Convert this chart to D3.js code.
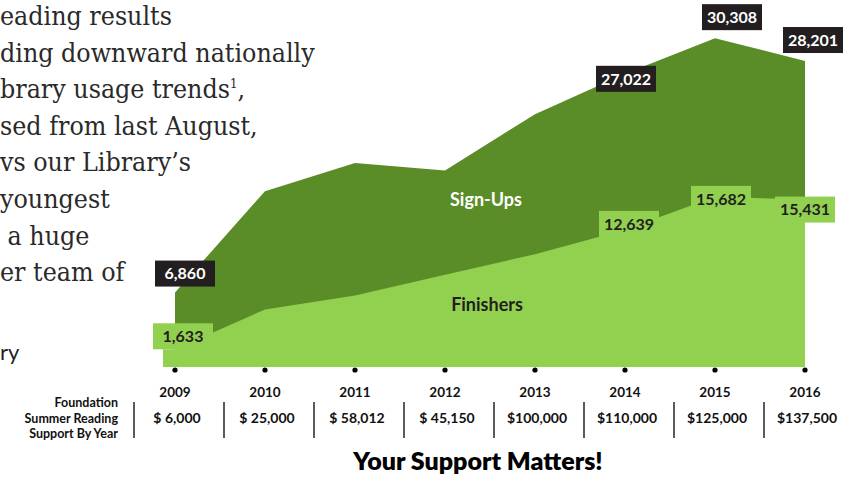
<!DOCTYPE html>
<html>
<head>
<meta charset="utf-8">
<script src="https://cdn.jsdelivr.net/npm/d3@7"></script>
<style>
  body { margin: 0; background: #fff; }
  svg { display: block; }
</style>
</head>
<body>
<div id="chart"></div>
<script>
const years = [2009, 2010, 2011, 2012, 2013, 2014, 2015, 2016];
const signUps = [6860, 16200, 18800, 18100, 23300, 27022, 30308, 28201];
const finishers = [1633, 5300, 6600, 8500, 10400, 12639, 15682, 15431];
const support = ["$ 6,000", "$ 25,000", "$ 58,012", "$ 45,150", "$100,000", "$110,000", "$125,000", "$137,500"];
// which points get a value tag
const signUpTagged = [2009, 2014, 2015, 2016];
const finisherTagged = [2009, 2014, 2015, 2016];
const introLines = [
  "eading results",
  "ding downward nationally",
  "brary usage trends",
  "sed from last August,",
  "vs our Library\u2019s",
  "youngest",
  " a huge",
  "er team of"
];

const width = 861, height = 477;
const dark = "#5a8c27", light = "#92d050", ink = "#231f20";
const sans = "Lato, 'Noto Sans', sans-serif";

const svg = d3.select("#chart").append("svg")
  .attr("width", width)
  .attr("height", height);

const x = d3.scaleLinear().domain([2009, 2016]).range([175, 805]);
const y = d3.scaleLinear().domain([0, 30000]).range([367, 41.5]);

// left intro paragraph (cut off by the page edge)
const intro = svg.append("g")
  .style("font-family", "'DejaVu Serif Condensed', 'DejaVu Serif', serif")
  .style("font-stretch", "condensed")
  .style("font-size", "26.5px")
  .attr("fill", "#2a2a2a");
introLines.forEach((t, i) => {
  const tx = intro.append("text")
    .attr("x", 0)
    .attr("y", 25 + i * 36.6)
    .attr("xml:space", "preserve")
    .text(t);
  if (i == 2) {
    tx.append("tspan").attr("dy", -10).style("font-size", "13px").text("1");
    tx.append("tspan").attr("dy", 10).text(",");
  }
});
svg.append("text")
  .attr("x", 0).attr("y", 360)
  .style("font-family", sans).style("font-size", "22px")
  .attr("fill", "#222")
  .text("ry");

const rows = years.map((yr, i) => ({year: yr, s: signUps[i], f: finishers[i]}));

svg.append("path")
  .datum(rows)
  .attr("fill", dark)
  .attr("d", d3.area().x(d => x(d.year)).y0(y(0)).y1(d => y(d.s)));

svg.append("path")
  .datum(rows)
  .attr("fill", light)
  .attr("d", d3.area().x(d => x(d.year)).y0(y(0)).y1(d => y(d.f)));

// the finishers fill pokes out a little left of the first point
svg.append("rect")
  .attr("x", x(2009) - 12).attr("y", y(finishers[0]))
  .attr("width", 12).attr("height", y(0) - y(finishers[0]))
  .attr("fill", light);

// value tags
function tag(year, value, bg, fg, dx, dy) {
  const cx = x(year) + dx, cy = y(value) + dy;
  const g = svg.append("g").attr("transform", `translate(${cx},${cy})`);
  g.append("rect")
    .attr("x", -30).attr("y", -13)
    .attr("width", 60).attr("height", 26)
    .attr("fill", bg);
  g.append("text")
    .attr("text-anchor", "middle")
    .attr("dy", "0.36em")
    .style("font-family", sans)
    .style("font-weight", 700)
    .style("font-size", "16px")
    .attr("fill", fg)
    .text(d3.format(",")(value));
}
const darkNudge = {2009: [10, -19], 2014: [1, 5], 2015: [17, -21], 2016: [8, -21]};
const lightNudge = {2009: [8, -13], 2014: [4, -6], 2015: [6, 2], 2016: [0, 10]};
signUpTagged.forEach(yr => {
  const i = years.indexOf(yr);
  tag(yr, signUps[i], ink, "#fff", darkNudge[yr][0], darkNudge[yr][1]);
});
finisherTagged.forEach(yr => {
  const i = years.indexOf(yr);
  tag(yr, finishers[i], light, ink, lightNudge[yr][0], lightNudge[yr][1]);
});

svg.append("text")
  .attr("x", 486).attr("y", 206)
  .attr("text-anchor", "middle")
  .style("font-family", sans).style("font-weight", 700).style("font-size", "18px")
  .attr("fill", "#fff")
  .text("Sign-Ups");
svg.append("text")
  .attr("x", 487).attr("y", 311)
  .attr("text-anchor", "middle")
  .style("font-family", sans).style("font-weight", 700).style("font-size", "18px")
  .attr("fill", ink)
  .text("Finishers");

// year dots on the baseline
svg.selectAll(".dot")
  .data(years)
  .enter().append("circle")
  .attr("cx", d => x(d)).attr("cy", 370).attr("r", 2.6)
  .attr("fill", "#000");

// support table
const table = svg.append("g")
  .style("font-family", sans)
  .style("font-weight", 700)
  .attr("fill", "#111");

table.selectAll(".yr")
  .data(years)
  .enter().append("text")
  .attr("x", d => x(d)).attr("y", 397)
  .attr("text-anchor", "middle")
  .style("font-size", "13.5px")
  .text(d => d);

table.selectAll(".amt")
  .data(support)
  .enter().append("text")
  .attr("x", (d, i) => x(years[i]) + 2).attr("y", 423)
  .attr("text-anchor", "middle")
  .style("font-size", "14px")
  .text(d => d);

svg.selectAll(".sep")
  .data(years)
  .enter().append("line")
  .attr("x1", d => x(d) - 41).attr("x2", d => x(d) - 41)
  .attr("y1", 402).attr("y2", 438)
  .attr("stroke", "#333").attr("stroke-width", 1.6);

["Foundation", "Summer Reading", "Support By Year"].forEach((t, i) => {
  table.append("text")
    .attr("x", 118).attr("y", 407 + i * 15.5)
    .attr("text-anchor", "end")
    .style("font-size", "12.5px")
    .text(t);
});

svg.append("text")
  .attr("x", 478).attr("y", 470)
  .attr("text-anchor", "middle")
  .style("font-family", sans).style("font-weight", 800).style("font-size", "25px")
  .attr("fill", "#000")
  .text("Your Support Matters!");
</script>
</body>
</html>
